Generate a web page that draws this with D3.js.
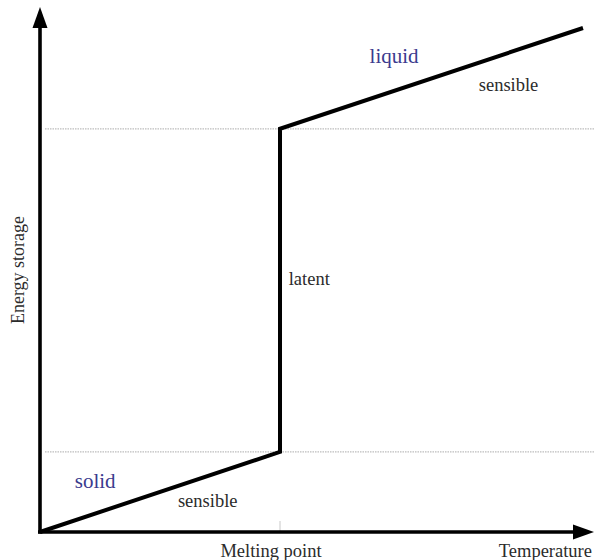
<!DOCTYPE html>
<html>
<head>
<meta charset="utf-8">
<script src="https://cdn.jsdelivr.net/npm/d3@7"></script>
<style>
  html, body { margin: 0; padding: 0; background: #fff; }
  svg { display: block; }
  text { font-family: "Liberation Serif", "DejaVu Serif", serif; }
</style>
</head>
<body>
<svg id="chart" width="595" height="560"></svg>
<script>
// ---- data ----
const temperature = [0, 44.2, 44.2, 100];     // relative temperature
const energy      = [0, 15.9, 80.0, 100];     // relative energy stored
const levels      = [15.9, 80.0];             // dotted reference levels
const meltingPoint = 44.2;
const phaseLabels = [
  { text: "liquid",   t: 60.7, e: 93.1, cls: "phase" },
  { text: "solid",    t: 6.4,  e: 8.7,  cls: "phase" },
  { text: "sensible", t: 80.8, e: 87.5, cls: "kind" },
  { text: "sensible", t: 25.4, e: 4.9,  cls: "kind" },
  { text: "latent",   t: 45.8, e: 49.0, cls: "kind" }
];
const xTitle = "Temperature";
const yTitle = "Energy storage";
const xTickLabel = "Melting point";

// ---- layout ----
const svg = d3.select("#chart");
const x = d3.scaleLinear().domain([0, 100]).range([40, 583]);
const y = d3.scaleLinear().domain([0, 100]).range([532, 28]);

// dotted reference lines
svg.selectAll("line.level").data(levels).join("line")
  .attr("class", "level")
  .attr("x1", x(0) + 5).attr("x2", 595)
  .attr("y1", d => y(d)).attr("y2", d => y(d))
  .attr("stroke", "#bdbdbd").attr("stroke-width", 1.2)
  .attr("stroke-dasharray", "1.5,1");

// melting point tick
svg.append("line")
  .attr("x1", x(meltingPoint)).attr("x2", x(meltingPoint))
  .attr("y1", y(0) - 11).attr("y2", y(0))
  .attr("stroke", "#c8c8c8").attr("stroke-width", 1);

// axes with arrows
const xTip = 594, yTip = 7, headLen = 21, headHalf = 7.5;
svg.append("line")
  .attr("x1", x(0) - 2).attr("x2", xTip - headLen + 2)
  .attr("y1", y(0)).attr("y2", y(0))
  .attr("stroke", "#000").attr("stroke-width", 3.6);
svg.append("line")
  .attr("x1", x(0)).attr("x2", x(0))
  .attr("y1", y(0) + 1.5).attr("y2", yTip + headLen - 2)
  .attr("stroke", "#000").attr("stroke-width", 3.6);
svg.append("path")
  .attr("d", `M${xTip},${y(0)} L${xTip - headLen},${y(0) - headHalf} L${xTip - headLen},${y(0) + headHalf} Z`)
  .attr("fill", "#000");
svg.append("path")
  .attr("d", `M${x(0)},${yTip} L${x(0) - headHalf},${yTip + headLen} L${x(0) + headHalf},${yTip + headLen} Z`)
  .attr("fill", "#000");

// energy curve
const line = d3.line().x((d, i) => x(temperature[i])).y(d => y(d));
svg.append("path")
  .datum(energy)
  .attr("d", line)
  .attr("fill", "none")
  .attr("stroke", "#000")
  .attr("stroke-width", 4)
  .attr("stroke-linejoin", "miter");

// phase / kind labels
svg.selectAll("text.lbl").data(phaseLabels).join("text")
  .attr("class", "lbl")
  .attr("x", d => x(d.t))
  .attr("y", d => y(d.e))
  .attr("font-size", d => d.cls === "phase" ? 21 : 18.5)
  .attr("fill", d => d.cls === "phase" ? "#3b3b8e" : "#2b2b2b")
  .text(d => d.text);

// axis titles
svg.append("text")
  .attr("x", x(meltingPoint) - 9).attr("y", 557)
  .attr("text-anchor", "middle")
  .attr("font-size", 18.5).attr("fill", "#2b2b2b")
  .text(xTickLabel);
svg.append("text")
  .attr("x", 592).attr("y", 557)
  .attr("text-anchor", "end")
  .attr("font-size", 18.5).attr("fill", "#2b2b2b")
  .text(xTitle);
svg.append("text")
  .attr("transform", "translate(24,270) rotate(-90)")
  .attr("text-anchor", "middle")
  .attr("font-size", 18).attr("fill", "#2b2b2b")
  .text(yTitle);
</script>
</body>
</html>
